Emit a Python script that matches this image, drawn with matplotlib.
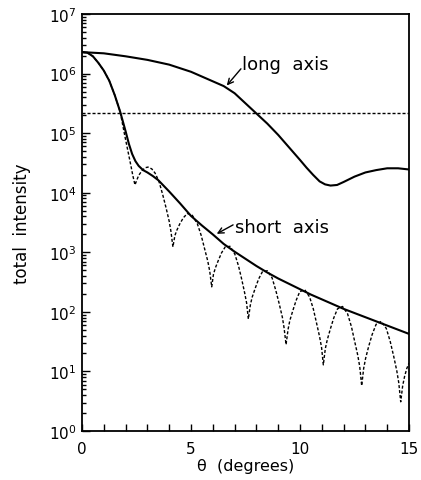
import numpy
import matplotlib
matplotlib.use('Agg')
import matplotlib.pyplot as plt

# values, intensities given as log10
longTheta = [0, 1, 2, 3, 4, 5, 5.5, 6, 6.5, 7, 7.5, 8, 8.5, 9, 9.5, 10, 10.3, 10.6, 10.9, 11.15, 11.4,
             11.7, 12.0, 12.5, 13, 13.5, 14, 14.5, 15]
longLog = [6.36, 6.34, 6.29, 6.23, 6.15, 6.03, 5.95, 5.87, 5.79, 5.67, 5.50, 5.33, 5.16, 4.97, 4.76, 4.55, 4.42, 4.30, 4.19, 4.14, 4.12,
           4.13, 4.18, 4.27, 4.34, 4.38, 4.41, 4.41, 4.39]

shortTheta = [0, 0.25, 0.5, 0.75, 1.0, 1.25, 1.5, 1.75, 2.0, 2.15, 2.3, 2.45, 2.6, 2.8, 3.0, 3.25,
              3.5, 4.0, 4.5, 5.0, 5.5, 6.0, 6.5, 7.0, 7.5, 8.0, 8.5, 9.0, 9.5, 10.0,
              10.5, 11.0, 11.5, 12.0, 12.5, 13.0, 13.5, 14.0, 14.5, 15.0]
shortLog = [6.36, 6.35, 6.29, 6.18, 6.05, 5.88, 5.64, 5.36, 5.03, 4.82, 4.65, 4.53, 4.45, 4.38, 4.34, 4.28,
            4.21, 4.02, 3.82, 3.61, 3.45, 3.30, 3.14, 3.01, 2.89, 2.77, 2.66, 2.56, 2.47, 2.38,
            2.29, 2.21, 2.13, 2.05, 1.98, 1.91, 1.84, 1.77, 1.70, 1.63]

dotTheta = [0, 0.25, 0.5, 0.75, 1.0, 1.25, 1.5, 1.75, 1.86, 1.95, 2.05, 2.15, 2.25, 2.33, 2.43, 2.5, 2.6, 2.75, 2.9,
            3.03, 3.2, 3.35, 3.53, 3.70, 3.86, 4.00, 4.08, 4.17,
            4.26, 4.35, 4.49, 4.65, 4.83, 5.06, 5.29, 5.47, 5.63, 5.77, 5.86, 5.95,
            6.03, 6.12, 6.25, 6.40, 6.57, 6.79, 7.01, 7.18, 7.33, 7.46, 7.55, 7.63,
            7.72, 7.80, 7.94, 8.10, 8.27, 8.50, 8.72, 8.89, 9.05, 9.19, 9.27, 9.36,
            9.45, 9.53, 9.67, 9.82, 9.99, 10.22, 10.44, 10.61, 10.76, 10.90, 10.99, 11.07,
            11.16, 11.25, 11.39, 11.55, 11.72, 11.95, 12.18, 12.36, 12.51, 12.65, 12.74, 12.83,
            12.92, 13.01, 13.15, 13.31, 13.49, 13.73, 13.96, 14.14, 14.30, 14.44, 14.53, 14.62,
            14.71, 14.80, 14.90, 15.0]
dotLog = [6.36, 6.35, 6.29, 6.18, 6.05, 5.88, 5.64, 5.36, 5.15, 4.98, 4.80, 4.62, 4.44, 4.29, 4.13, 4.20, 4.29, 4.37, 4.42,
          4.43, 4.40, 4.33, 4.19, 3.97, 3.74, 3.52, 3.35, 3.09,
          3.28, 3.37, 3.48, 3.58, 3.65, 3.62, 3.48, 3.28, 3.05, 2.85, 2.68, 2.42,
          2.63, 2.74, 2.86, 2.99, 3.09, 3.10, 2.97, 2.77, 2.54, 2.32, 2.15, 1.88,
          2.11, 2.24, 2.39, 2.55, 2.67, 2.69, 2.57, 2.36, 2.13, 1.91, 1.73, 1.45,
          1.70, 1.85, 2.02, 2.19, 2.34, 2.37, 2.25, 2.05, 1.81, 1.58, 1.40, 1.11,
          1.38, 1.53, 1.71, 1.90, 2.05, 2.09, 1.97, 1.75, 1.50, 1.27, 1.08, 0.76,
          1.05, 1.22, 1.42, 1.62, 1.79, 1.84, 1.72, 1.50, 1.25, 1.01, 0.81, 0.49,
          0.76, 0.92, 1.05, 1.14]

flatLevel = 2.2e5
flatTheta = [0, 15]

xTicks = [0, 5, 10, 15]
decades = list(range(0, 8))

plt.rcParams['font.family'] = 'DejaVu Sans'

fig = plt.figure(figsize=(4.21, 4.81), dpi=100)
ax = fig.add_axes([0.1948, 0.1019, 0.7767, 0.8669])

dash = (0, (2.2, 1.4))
ax.plot(flatTheta, [flatLevel, flatLevel], color='black', lw=1.0, linestyle=dash)
ax.plot(dotTheta, 10**numpy.array(dotLog), color='black', lw=1.0, linestyle=dash)
ax.plot(longTheta, 10**numpy.array(longLog), '-', color='black', lw=1.5)
ax.plot(shortTheta, 10**numpy.array(shortLog), '-', color='black', lw=1.5)

ax.set_yscale('log')
ax.set_xlim(0, 15)
ax.set_ylim(1, 1e7)

ax.set_xticks(xTicks)
ax.set_xticks(numpy.arange(0, 16), minor=True)
ax.set_yticks([10.0**k for k in decades])
ax.set_yticklabels(['$10^{%d}$' % k for k in decades])
ax.set_yticks([m * 10.0**k for k in decades[:-1] for m in range(2, 10)], minor=True)
ax.set_yticklabels([], minor=True)
ax.set_xticklabels([], minor=True)
ax.set_ylim(1, 1e7)

ax.tick_params(which='both', direction='in', top=False, right=False, labelsize=11, width=1.0)
ax.tick_params(axis='x', which='both', length=5, pad=7)
ax.tick_params(axis='y', which='major', length=6, pad=4)
ax.tick_params(axis='y', which='minor', length=3)
for s in ax.spines.values():
    s.set_linewidth(1.3)

ax.set_xlabel('θ  (degrees)', fontsize=11.5, labelpad=2)
ax.set_ylabel('total  intensity', fontsize=12, labelpad=13)

arrow = dict(arrowstyle='->', color='black', lw=1.0, shrinkA=0, shrinkB=0)
ax.annotate('', xy=(6.64, 10**5.80), xytext=(7.29, 10**6.08), arrowprops=arrow)
ax.text(7.36, 10**6.16, 'long  axis', fontsize=13, va='center', ha='left')
ax.annotate('', xy=(6.18, 10**3.31), xytext=(6.93, 10**3.46), arrowprops=arrow)
ax.text(7.0, 10**3.43, 'short  axis', fontsize=13, va='center', ha='left')

plt.savefig('out.png', dpi=100)
